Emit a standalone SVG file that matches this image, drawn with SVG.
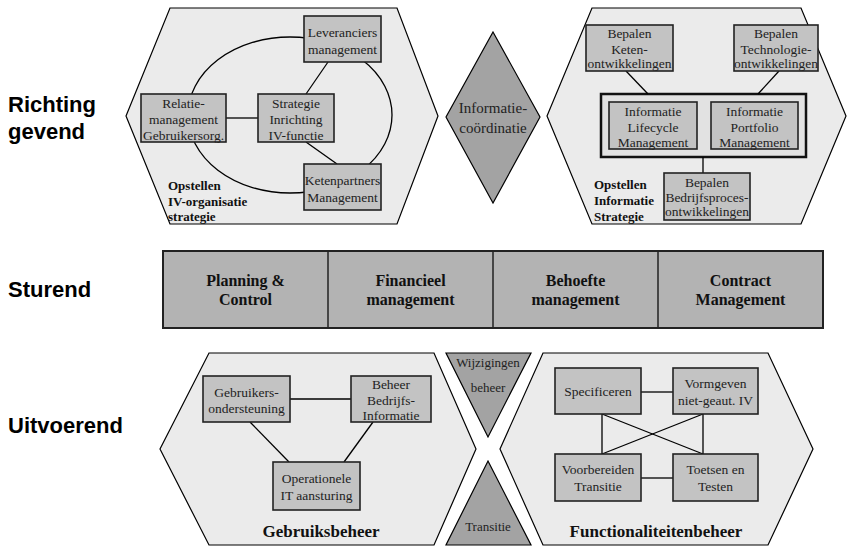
<svg xmlns="http://www.w3.org/2000/svg" width="849" height="549" viewBox="0 0 849 549">
<style>
.hex{fill:#ebebeb;stroke:#000;stroke-width:1.2}
.dark{fill:#a3a3a3;stroke:#000;stroke-width:1.2}
.box{fill:#c3c3c3;stroke:#222;stroke-width:1.6}
.bar{fill:#b3b3b3;stroke:#222;stroke-width:2}
.ln{stroke:#000;stroke-width:1.3;fill:none}
.t{font-family:"Liberation Serif","Times New Roman",serif;font-size:13.5px;fill:#222;text-anchor:middle}
.tb{font-family:"Liberation Serif","Times New Roman",serif;font-size:13px;font-weight:bold;fill:#111}
.tbar{font-family:"Liberation Serif","Times New Roman",serif;font-size:16px;font-weight:bold;fill:#111;text-anchor:middle}
.tbig{font-family:"Liberation Serif","Times New Roman",serif;font-size:17px;font-weight:bold;fill:#111;text-anchor:middle}
.lab{font-family:"Liberation Sans",Arial,sans-serif;font-size:22px;font-weight:bold;fill:#000}
</style>

<g id="labels">
<text class="lab" x="8" y="112">Richting</text>
<text class="lab" x="8" y="139">gevend</text>
<text class="lab" x="8" y="297">Sturend</text>
<text class="lab" x="8" y="433">Uitvoerend</text>
</g>

<g id="hex-iv-organisatie">
<polygon class="hex" points="170,8 397,8 438,116 397,224 170,224 126,116"/>
<text class="tb" x="168"><tspan x="168" y="190">Opstellen</tspan><tspan x="168" y="206">IV-organisatie</tspan><tspan x="168" y="221">strategie</tspan></text>
</g>

<g id="hex-informatiestrategie">
<polygon class="hex" points="592,8 801,8 846,116 801,224 592,224 547,116"/>
<rect x="601" y="94" width="205" height="63" fill="#e2e2e2" stroke="#111" stroke-width="2.5"/>
<text class="tb"><tspan x="594" y="189">Opstellen</tspan><tspan x="594" y="205">Informatie</tspan><tspan x="594" y="221">Strategie</tspan></text>
</g>

<g id="informatiecoordinatie">
<polygon class="dark" points="493,32 540,117 493,203 446,117"/>
<text class="t" style="font-size:15px"><tspan x="493" y="113">Informatie-</tspan><tspan x="493" y="133">coördinatie</tspan></text>
</g>

<g id="sturend-bar">
<rect class="bar" x="163" y="251" width="660" height="77"/>
<line stroke="#222" stroke-width="1.5" x1="328" y1="251" x2="328" y2="328"/>
<line stroke="#222" stroke-width="1.5" x1="493" y1="251" x2="493" y2="328"/>
<line stroke="#222" stroke-width="1.5" x1="658" y1="251" x2="658" y2="328"/>
<text class="tbar"><tspan x="245.5" y="286">Planning &amp;</tspan><tspan x="245.5" y="305">Control</tspan></text>
<text class="tbar"><tspan x="410.5" y="286">Financieel</tspan><tspan x="410.5" y="305">management</tspan></text>
<text class="tbar"><tspan x="575.5" y="286">Behoefte</tspan><tspan x="575.5" y="305">management</tspan></text>
<text class="tbar"><tspan x="740.5" y="286">Contract</tspan><tspan x="740.5" y="305">Management</tspan></text>
</g>

<g id="hex-gebruiksbeheer">
<polygon class="hex" points="209,353 434,353 476,449 434,545 209,545 160,449"/>
<text class="tbig" x="321" y="537">Gebruiksbeheer</text>
</g>
<g id="wijzigingenbeheer">
<polygon class="dark" points="446,353 531,353 488,437"/>
<text class="t" style="font-size:13px"><tspan x="488" y="367">Wijzigingen</tspan><tspan x="488" y="392">beheer</tspan></text>
</g>
<g id="transitie">
<polygon class="dark" points="488,461 531,545 446,545"/>
<text class="t" style="font-size:13px" x="488" y="531">Transitie</text>
</g>
<g id="hex-functionaliteitenbeheer">
<polygon class="hex" points="543,353 768,353 813,449 768,545 543,545 500,449"/>
<text class="tbig" x="656" y="537">Functionaliteitenbeheer</text>
</g>

<g id="connectors">
<ellipse class="ln" cx="290" cy="115" rx="102" ry="78"/>
<line class="ln" x1="226" y1="118" x2="258" y2="118"/>
<line class="ln" x1="306" y1="94" x2="328" y2="62"/>
<line class="ln" x1="306" y1="142" x2="337" y2="164"/>
<line class="ln" x1="626" y1="71" x2="648" y2="94"/>
<line class="ln" x1="779" y1="71" x2="758" y2="94"/>
<line class="ln" x1="703" y1="157" x2="703" y2="173"/>
<line class="ln" x1="290" y1="399" x2="351" y2="399"/>
<line class="ln" x1="250" y1="422" x2="289" y2="462"/>
<line class="ln" x1="373" y1="422" x2="344" y2="462"/>
<line class="ln" x1="641" y1="392" x2="673" y2="392"/>
<line class="ln" x1="641" y1="478" x2="673" y2="478"/>
<line class="ln" x1="602" y1="414" x2="602" y2="454"/>
<line class="ln" x1="703" y1="414" x2="703" y2="454"/>
<line class="ln" x1="602" y1="414" x2="703" y2="454"/>
<line class="ln" x1="703" y1="414" x2="602" y2="454"/>
</g>

<g id="leveranciers">
<rect class="box" x="304" y="16" width="77" height="46"/>
<text class="t"><tspan x="342.5" y="37">Leveranciers</tspan><tspan x="342.5" y="54">management</tspan></text>
</g>
<g id="relatie">
<rect class="box" x="141" y="94" width="85" height="48"/>
<text class="t"><tspan x="183.5" y="108">Relatie-</tspan><tspan x="183.5" y="124">management</tspan><tspan x="183.5" y="140">Gebruikersorg.</tspan></text>
</g>
<g id="strategie">
<rect class="box" x="258" y="94" width="76" height="48"/>
<text class="t"><tspan x="296" y="108">Strategie</tspan><tspan x="296" y="124">Inrichting</tspan><tspan x="296" y="140">IV-functie</tspan></text>
</g>
<g id="ketenpartners">
<rect class="box" x="304" y="164" width="77" height="46"/>
<text class="t"><tspan x="342.5" y="185">Ketenpartners</tspan><tspan x="342.5" y="202">Management</tspan></text>
</g>

<g id="keten">
<rect class="box" x="586" y="25" width="87" height="46"/>
<text class="t"><tspan x="629.5" y="38">Bepalen</tspan><tspan x="629.5" y="54">Keten-</tspan><tspan x="629.5" y="68">ontwikkelingen</tspan></text>
</g>
<g id="technologie">
<rect class="box" x="734" y="25" width="84" height="46"/>
<text class="t"><tspan x="776" y="38">Bepalen</tspan><tspan x="776" y="54">Technologie-</tspan><tspan x="776" y="68">ontwikkelingen</tspan></text>
</g>
<g id="lifecycle">
<rect class="box" x="609" y="102" width="88" height="47"/>
<text class="t"><tspan x="653" y="116">Informatie</tspan><tspan x="653" y="132">Lifecycle</tspan><tspan x="653" y="147">Management</tspan></text>
</g>
<g id="portfolio">
<rect class="box" x="711" y="102" width="87" height="47"/>
<text class="t"><tspan x="754.5" y="116">Informatie</tspan><tspan x="754.5" y="132">Portfolio</tspan><tspan x="754.5" y="147">Management</tspan></text>
</g>
<g id="bedrijfsproces">
<rect class="box" x="664" y="173" width="86" height="47"/>
<text class="t"><tspan x="707" y="187">Bepalen</tspan><tspan x="707" y="202">Bedrijfsproces-</tspan><tspan x="707" y="216">ontwikkelingen</tspan></text>
</g>

<g id="gebruikersondersteuning">
<rect class="box" x="203" y="376" width="87" height="46"/>
<text class="t"><tspan x="246.5" y="397">Gebruikers-</tspan><tspan x="246.5" y="413">ondersteuning</tspan></text>
</g>
<g id="beheer-bedrijfsinformatie">
<rect class="box" x="351" y="376" width="80" height="46"/>
<text class="t"><tspan x="391" y="389">Beheer</tspan><tspan x="391" y="405">Bedrijfs-</tspan><tspan x="391" y="420">Informatie</tspan></text>
</g>
<g id="operationele">
<rect class="box" x="273" y="462" width="87" height="48"/>
<text class="t"><tspan x="316.5" y="483">Operationele</tspan><tspan x="316.5" y="500">IT aansturing</tspan></text>
</g>
<g id="specificeren">
<rect class="box" x="555" y="368" width="86" height="46"/>
<text class="t" x="598" y="396">Specificeren</text>
</g>
<g id="vormgeven">
<rect class="box" x="673" y="368" width="85" height="46"/>
<text class="t"><tspan x="715.5" y="388">Vormgeven</tspan><tspan x="715.5" y="405">niet-geaut. IV</tspan></text>
</g>
<g id="voorbereiden">
<rect class="box" x="555" y="454" width="86" height="47"/>
<text class="t"><tspan x="598" y="474">Voorbereiden</tspan><tspan x="598" y="491">Transitie</tspan></text>
</g>
<g id="toetsen">
<rect class="box" x="673" y="454" width="85" height="47"/>
<text class="t"><tspan x="715.5" y="474">Toetsen en</tspan><tspan x="715.5" y="491">Testen</tspan></text>
</g>
</svg>
